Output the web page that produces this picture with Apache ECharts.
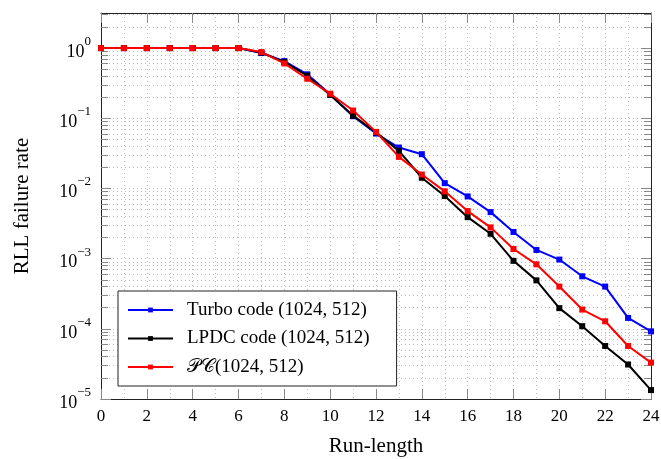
<!DOCTYPE html>
<html>
<head>
<meta charset="utf-8">
<script src="https://cdn.jsdelivr.net/npm/echarts@6/dist/echarts.min.js"></script>
<style>html,body{margin:0;padding:0;background:#fff;}#chart{width:661px;height:459px;}</style>
</head>
<body>
<div id="chart"></div>
<script>
// ---- data ----
const runLength = [0,1,2,3,4,5,6,7,8,9,10,11,12,13,14,15,16,17,18,19,20,21,22,23,24];
const turbo = [1,1,1,1,1,1,1,0.85,0.653,0.423,0.22,0.107,0.0606,0.0383,0.0308,0.0119,0.0077,0.0046,0.0024,0.00133,0.00097,0.00056,0.0004,0.000143,0.000092];
const ldpc  = [1,1,1,1,1,1,1,0.86,0.63,0.405,0.215,0.109,0.063,0.0343,0.0142,0.0078,0.0039,0.00226,0.00093,0.00049,0.000197,0.000109,0.000057,0.000031,0.0000134];
const pc    = [1,1,1,1,1,1,1,0.877,0.605,0.366,0.224,0.129,0.064,0.0282,0.0158,0.0091,0.00476,0.00279,0.00137,0.00083,0.0004,0.000188,0.000128,0.000057,0.000033];
const seriesNames = ['Turbo code (1024, 512)', 'LPDC code (1024, 512)', '\u{1D4AB}\u{1D49E}(1024, 512)'];
const majorY = [1e-5, 1e-4, 1e-3, 1e-2, 1e-1, 1];
const minorY = [];
for (let e = -5; e <= 0; e++) { for (let m = 2; m <= 9; m++) { const v = m * Math.pow(10, e); if (v <= 3.1623) minorY.push(+v.toPrecision(3)); } }
const xTicks = [0,2,4,6,8,10,12,14,16,18,20,22,24];

const serif = 'Liberation Serif';
const gridCol = '#bcbcbc';
const tickCol = '#888888';
const yMin = 1e-5, yMax = 3.1623;

function yLabel(v) {
  const e = Math.round(Math.log10(v));
  return '{b|10}{s|' + (e < 0 ? '\u2212' + (-e) : e) + '}';
}

const baseY = {
  type: 'log', logBase: 10, min: yMin, max: yMax,
  axisLine: {show: false},
  axisLabel: {show: false},
  splitLine: {show: false},
  minorTick: {show: false}, minorSplitLine: {show: false}
};
function yAx(opts) { return Object.assign({}, JSON.parse(JSON.stringify(baseY)), opts); }

const option = {
  animation: false,
  backgroundColor: '#fff',
  grid: {left: 101, right: 10, top: 13, bottom: 60, containLabel: false, outerBoundsMode: 'none'},
  xAxis: [
    {
      type: 'value', min: 0, max: 24, interval: 2, position: 'bottom',
      name: 'Run-length', nameLocation: 'middle', nameGap: 37,
      nameTextStyle: {fontFamily: serif, fontSize: 21, color: '#000'},
      axisLine: {show: true, lineStyle: {color: '#222', width: 1}},
      axisTick: {show: true, inside: true, length: 10, lineStyle: {color: tickCol}, customValues: xTicks},
      axisLabel: {fontFamily: serif, fontSize: 17, color: '#000', margin: 9, customValues: xTicks},
      splitLine: {show: true, lineStyle: {color: gridCol, type: [1, 3], width: 1}},
      minorTick: {show: false, splitNumber: 2},
      minorSplitLine: {show: true, lineStyle: {color: gridCol, type: [1, 3], width: 1}}
    },
    {
      type: 'value', min: 0, max: 24, interval: 2, position: 'top',
      axisLine: {show: true, lineStyle: {color: '#222', width: 1}},
      axisTick: {show: true, inside: true, length: 10, lineStyle: {color: tickCol}},
      axisLabel: {show: false}, splitLine: {show: false}
    }
  ],
  yAxis: [
    yAx({
      position: 'left',
      name: 'RLL failure rate', nameLocation: 'middle', nameGap: 68, nameRotate: 90,
      nameTextStyle: {fontFamily: serif, fontSize: 21, color: '#000'},
      axisLine: {show: true, lineStyle: {color: '#222', width: 1}},
      axisTick: {show: true, inside: true, length: 10, lineStyle: {color: tickCol}, customValues: majorY},
      axisLabel: {show: true, customValues: majorY, margin: 10, formatter: yLabel,
        rich: {b: {fontFamily: serif, fontSize: 18, color: '#000', lineHeight: 26, verticalAlign: 'bottom'},
               s: {fontFamily: serif, fontSize: 13, color: '#000', lineHeight: 26, verticalAlign: 'top'}}},
      splitLine: {show: true, lineStyle: {color: gridCol, type: [1, 3], width: 1}}
    }),
    yAx({
      position: 'left',
      axisTick: {show: true, inside: true, length: 7, lineStyle: {color: tickCol}, customValues: minorY},
      splitLine: {show: true, lineStyle: {color: gridCol, type: [1, 3], width: 1}}
    }),
    yAx({
      position: 'right',
      axisLine: {show: true, lineStyle: {color: '#222', width: 1}},
      axisTick: {show: true, inside: true, length: 10, lineStyle: {color: tickCol}, customValues: majorY}
    }),
    yAx({
      position: 'right',
      axisTick: {show: true, inside: true, length: 7, lineStyle: {color: tickCol}, customValues: minorY}
    })
  ],
  legend: {
    orient: 'vertical', left: 118, top: 291,
    data: seriesNames,
    backgroundColor: '#fff', borderColor: '#222', borderWidth: 1, borderRadius: 0,
    padding: [9, 27, 9, 9], itemGap: 8.5, itemWidth: 45, itemHeight: 6,
    textStyle: {fontFamily: serif, fontSize: 19, color: '#000', lineHeight: 20, padding: [0, 0, 0, 9]}
  },
  series: [
    {name: seriesNames[0], data: runLength.map((x, i) => [x, turbo[i]]), color: '#0000ff'},
    {name: seriesNames[1], data: runLength.map((x, i) => [x, ldpc[i]]), color: '#000000'},
    {name: seriesNames[2], data: runLength.map((x, i) => [x, pc[i]]), color: '#ff0000'}
  ].map((s, i) => Object.assign({
    type: 'line', xAxisIndex: 0, yAxisIndex: 0,
    symbol: 'rect', symbolSize: 6, showSymbol: true,
    lineStyle: {width: 2, color: s.color}, itemStyle: {color: s.color},
    z: 3 + i
  }, s))
};
const chart = echarts.init(document.getElementById('chart'), null, {renderer: 'canvas'});
chart.setOption(option);
</script>
</body>
</html>
